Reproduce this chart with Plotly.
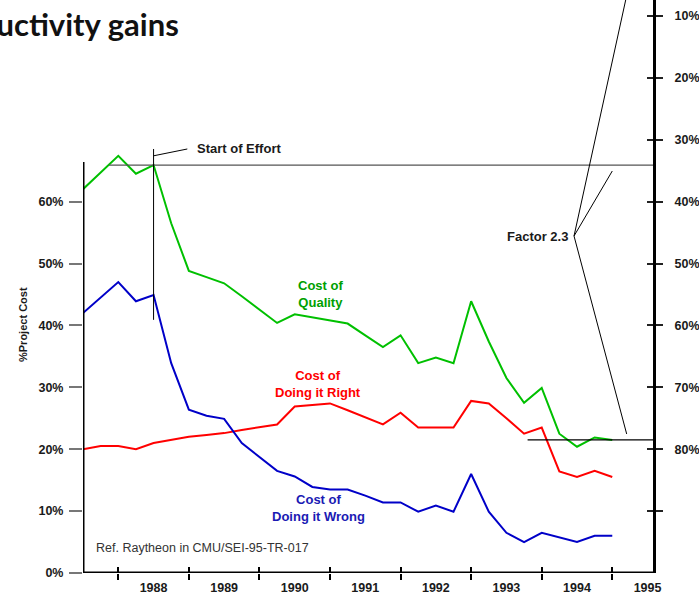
import plotly.graph_objects as go

# Quarterly observations (fractional years)
quarters = [1987.5, 1987.75, 1988.0, 1988.25, 1988.5, 1988.75, 1989.0, 1989.25,
            1989.5, 1989.75, 1990.0, 1990.25, 1990.5, 1990.75, 1991.0, 1991.25,
            1991.5, 1991.75, 1992.0, 1992.25, 1992.5, 1992.75, 1993.0, 1993.25,
            1993.5, 1993.75, 1994.0, 1994.25, 1994.5, 1994.75, 1995.0]

# % of project cost
cost_of_quality = [62.0, 64.7, 67.4, 64.5, 65.9, 56.5, 48.8, 47.8, 46.8, 44.7, 42.5,
                   40.4, 41.8, 41.3, 40.8, 40.3, 38.4, 36.5, 38.4, 33.9, 34.8, 33.9,
                   43.9, 37.4, 31.5, 27.5, 29.9, 22.5, 20.4, 21.9, 21.5]
cost_doing_right = [20.0, 20.5, 20.5, 20.0, 21.0, 21.5, 22.0, 22.3, 22.6, 23.1, 23.6,
                    24.0, 26.9, 27.1, 27.4, 26.3, 25.2, 24.0, 25.9, 23.5, 23.5, 23.5,
                    27.8, 27.4, 25.0, 22.5, 23.5, 16.4, 15.5, 16.5, 15.5]
cost_doing_wrong = [42.0, 44.5, 47.0, 43.9, 44.9, 33.9, 26.4, 25.4, 24.9, 21.0, 18.8,
                    16.5, 15.6, 13.9, 13.5, 13.5, 12.5, 11.4, 11.4, 9.9, 10.9, 9.9,
                    16.0, 9.9, 6.5, 5.0, 6.5, 5.8, 5.0, 6.0, 6.0]

years = [1988, 1989, 1990, 1991, 1992, 1993, 1994, 1995]
left_ticks = [0, 10, 20, 30, 40, 50, 60]
right_ticks = [10, 20, 30, 40, 50, 60, 70, 80, 90]
right_labels = ["10%", "20%", "30%", "40%", "50%", "60%", "70%", "80%", ""]

effort_start = 1988.5          # quarter where the effort begins
factor_text = "Factor 2.3"

GREEN = "#00c000"
RED = "#ff0000"
BLUE = "#0000c8"
AX_FONT = dict(family="Liberation Sans, Arial, sans-serif", size=12.5, color="#1a1a1a")

X_RANGE = [1987.5, 1995.577]
Y_TOP = 92.57
Y_RANGE = [0, Y_TOP]
Y2_RANGE = [100, 100 - Y_TOP]

fig = go.Figure()
for vals, col in [(cost_of_quality, GREEN), (cost_doing_right, RED), (cost_doing_wrong, BLUE)]:
    fig.add_trace(go.Scatter(x=quarters, y=vals, mode="lines",
                             line=dict(color=col, width=2), hoverinfo="skip",
                             showlegend=False))

# reversed companion scale (100 % minus cost) on the right
fig.add_trace(go.Scatter(x=quarters, y=[100 - v for v in cost_of_quality], xaxis="x",
                         yaxis="y2", mode="lines", line=dict(width=0), opacity=0,
                         hoverinfo="skip", showlegend=False))
fig.add_trace(go.Scatter(x=quarters, y=[100 - v for v in cost_of_quality], xaxis="x2",
                         yaxis="y3", mode="lines", line=dict(width=0), opacity=0,
                         hoverinfo="skip", showlegend=False))
fig.add_trace(go.Scatter(x=quarters, y=cost_of_quality, xaxis="x3", yaxis="y",
                         mode="lines", line=dict(width=0), opacity=0,
                         hoverinfo="skip", showlegend=False))

level_start = cost_of_quality[quarters.index(effort_start)]
level_end = cost_of_quality[-1]

shapes = [
    # left axis line, only up to the data region
    dict(type="line", xref="x", yref="y", x0=X_RANGE[0], x1=X_RANGE[0], y0=0, y1=66.4,
         line=dict(color="black", width=3)),
    # bottom axis runs slightly past the right scale
    dict(type="line", xref="x", yref="y", x0=X_RANGE[0], x1=1995.63, y0=0, y1=0,
         line=dict(color="black", width=3)),
    # reference level at start of effort
    dict(type="line", xref="x", yref="y", x0=1987.87, x1=X_RANGE[1], y0=level_start,
         y1=level_start, line=dict(color="#555555", width=1.3)),
    # reference level at the end
    dict(type="line", xref="x", yref="y", x0=1993.8, x1=X_RANGE[1], y0=level_end,
         y1=level_end, line=dict(color="black", width=1.3)),
    # start-of-effort marker
    dict(type="line", xref="x", yref="y", x0=effort_start, x1=effort_start, y0=40.9,
         y1=68.5, line=dict(color="black", width=1)),
    dict(type="line", xref="x", yref="y", x0=effort_start, x1=1988.978, y0=67.4,
         y1=68.5, line=dict(color="black", width=1)),
    # factor callout lines
    dict(type="line", xref="x", yref="y", x0=1994.458, x1=1995.19, y0=54.44, y1=Y_TOP,
         line=dict(color="black", width=1)),
    dict(type="line", xref="x", yref="y", x0=1994.458, x1=1995.0, y0=54.44, y1=64.94,
         line=dict(color="black", width=1)),
    dict(type="line", xref="x", yref="y", x0=1994.458, x1=1995.204, y0=54.44, y1=22.46,
         line=dict(color="black", width=1)),
]

label_font = dict(family="Liberation Sans, Arial, sans-serif", size=13)
annotations = [
    dict(text="Productivity gains", xref="paper", yref="paper", x=(181 - 83) / 570,
         y=1 - 24 / 573, xanchor="right", yanchor="middle", showarrow=False,
         font=dict(family="Lato, sans-serif", size=31, color="#111111", weight="bold")),
    dict(text="<b>%Project Cost</b>", xref="paper", yref="paper", x=(15 - 83) / 570,
         y=1 - 325 / 573, textangle=-90, showarrow=False,
         font=dict(family="Liberation Sans, Arial, sans-serif", size=11, color="#1a1a1a")),
    dict(text="<b>Cost of<br>Quality</b>", x=1990.86, y=45.0, showarrow=False,
         font=dict(label_font, color="#00a000")),
    dict(text="<b>Cost of<br>Doing it Right</b>", x=1990.83, y=30.5, showarrow=False,
         font=dict(label_font, color=RED)),
    dict(text="<b>Cost of<br>Doing it Wrong</b>", x=1990.84, y=10.5, showarrow=False,
         font=dict(label_font, color="#1a1ab4")),
    dict(text="Ref. Raytheon in CMU/SEI-95-TR-017", x=1987.66, y=4.0, xanchor="left",
         showarrow=False, font=dict(label_font, size=12.5, color="#333333")),
    dict(text="<b>Start of Effort</b>", x=1989.08, y=68.5, xanchor="left",
         showarrow=False, font=dict(label_font, color="#1a1a1a")),
    dict(text="<b>" + factor_text + "</b>", x=1994.40, y=54.3, xanchor="right",
         showarrow=False, font=dict(label_font, color="#1a1a1a")),
]
for a in annotations[2:]:
    a.setdefault("xref", "x")
    a.setdefault("yref", "y")

fig.update_layout(
    width=699, height=597,
    margin=dict(l=83, r=46, t=0, b=24),
    paper_bgcolor="white", plot_bgcolor="white",
    showlegend=False,
    shapes=shapes, annotations=annotations,
    xaxis=dict(range=X_RANGE, tickvals=[y + 0.5 for y in years],
               ticktext=["<b>%d</b>" % y for y in years], ticks="", showgrid=False,
               zeroline=False, showline=False, tickfont=AX_FONT, ticklabelstandoff=5),
    xaxis2=dict(range=X_RANGE, overlaying="x", anchor="y", side="bottom",
                tickvals=years, ticks="outside", ticklen=6, tickwidth=1.5,
                tickcolor="black", showticklabels=False, showgrid=False,
                zeroline=False, showline=False),
    xaxis3=dict(range=X_RANGE, overlaying="x", anchor="y", side="bottom",
                tickvals=years, ticks="inside", ticklen=6, tickwidth=1.5,
                tickcolor="black", showticklabels=False, showgrid=False,
                zeroline=False, showline=False),
    yaxis=dict(range=Y_RANGE, tickvals=left_ticks,
               ticktext=["<b>%d%%</b>" % v for v in left_ticks], ticks="outside",
               ticklen=13, tickwidth=2, tickcolor="#777777", showgrid=False,
               zeroline=False, showline=False, tickfont=AX_FONT, ticklabelstandoff=3),
    yaxis2=dict(range=Y2_RANGE, overlaying="y", side="right", anchor="x",
                tickvals=right_ticks, ticktext=["<b>%s</b>" % t for t in right_labels],
                ticks="outside", ticklen=7, tickwidth=2, tickcolor="#222222",
                showgrid=False, zeroline=False, showline=True, linecolor="black",
                linewidth=3, tickfont=AX_FONT, ticklabelstandoff=9),
    yaxis3=dict(range=Y2_RANGE, overlaying="y", side="right", anchor="x2",
                tickvals=right_ticks, ticks="inside", ticklen=6, tickwidth=2,
                tickcolor="#222222", showticklabels=False, showgrid=False,
                zeroline=False, showline=False),
)

fig.write_html("out.html")
